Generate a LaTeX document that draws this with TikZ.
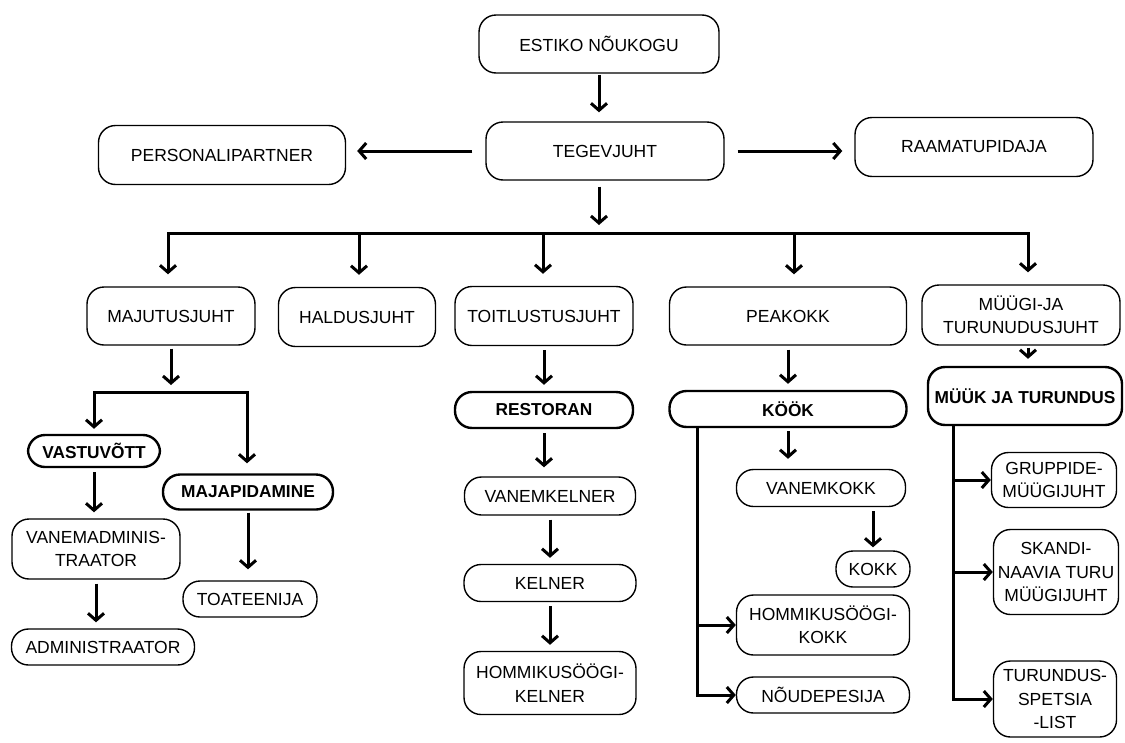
\documentclass[tikz,border=0pt]{standalone}
\usepackage{fontspec}
\setmainfont{Liberation Sans}
\usetikzlibrary{arrows.meta}

\begin{document}
\begin{tikzpicture}[x=1pt,y=-1pt,font=\fontsize{17.5}{23.5}\selectfont]
\tikzset{
  box/.style={draw,rounded corners=17pt,align=center,inner sep=0pt,line width=1.4pt},
  boss/.style={box,line width=2.4pt,font=\fontsize{17.3}{23.5}\selectfont\bfseries},
  arr/.style={-{Straight Barb[length=7pt,width=16pt]},line width=3pt,shorten <=4pt,shorten >=6pt},
  link/.style={arr,shorten <=0pt,shorten >=0pt}
}
\useasboundingbox (0,0) rectangle (1125,742);
% top
\node(nouk)[box,minimum width=240pt,minimum height=58pt] at (599,44){ESTIKO NÕUKOGU};
\node(tegev)[box,minimum width=238pt,minimum height=58pt] at (605,151){TEGEVJUHT};
\node(pers)[box,minimum width=247pt,minimum height=59pt] at (222,155){PERSONALIPARTNER};
\node(raam)[box,minimum width=238pt,minimum height=59pt] at (974,147){RAAMATUPIDAJA};
% juhid
\node(majut)[box,minimum width=168pt,minimum height=58pt] at (171,316){MAJUTUSJUHT};
\node(haldus)[box,minimum width=157pt,minimum height=59pt] at (357,317){HALDUSJUHT};
\node(toit)[box,minimum width=178pt,minimum height=59pt] at (544,316){TOITLUSTUSJUHT};
\node(peak)[box,minimum width=237pt,minimum height=58pt] at (788,316){PEAKOKK};
\node(myygi)[box,minimum width=198pt,minimum height=60pt] at (1021,315){MÜÜGI-JA\\TURUNUDUSJUHT};
% majutus
\node(vastu)[boss,minimum width=132pt,minimum height=32pt] at (94,451){VASTUVÕTT};
\node(majap)[boss,minimum width=170pt,minimum height=35pt] at (248,492){MAJAPIDAMINE};
\node(vanemad)[box,minimum width=168pt,minimum height=60pt] at (96,549){VANEMADMINIS-\\TRAATOR};
\node(admin)[box,minimum width=183pt,minimum height=36pt] at (103,647){ADMINISTRAATOR};
\node(toa)[box,minimum width=134pt,minimum height=36pt] at (250,599){TOATEENIJA};
% restoran
\node(resto)[boss,minimum width=178pt,minimum height=36pt] at (544,410){RESTORAN};
\node(vkelner)[box,minimum width=171pt,minimum height=38pt] at (550,496){VANEMKELNER};
\node(kelner)[box,minimum width=172pt,minimum height=37pt] at (550,583){KELNER};
\node(hkelner)[box,minimum width=172pt,minimum height=63pt] at (550,683){HOMMIKUSÖÖGI-\\KELNER};
% köök
\node(kook)[boss,minimum width=237pt,minimum height=36pt] at (788,409){KÖÖK};
\node(vkokk)[box,minimum width=169pt,minimum height=37pt] at (821,488){VANEMKOKK};
\node(kokk)[box,minimum width=74pt,minimum height=36pt] at (873,569){KOKK};
\node(hkokk)[box,minimum width=173pt,minimum height=60pt] at (823,625){HOMMIKUSÖÖGI-\\KOKK};
\node(noude)[box,minimum width=173pt,minimum height=36pt] at (823,695){NÕUDEPESIJA};
% müük
\node(myyk)[boss,minimum width=194pt,minimum height=58pt] at (1025,396){MÜÜK JA TURUNDUS};
\node(grupp)[box,minimum width=125pt,minimum height=55pt] at (1054,480){GRUPPIDE-\\MÜÜGIJUHT};
\node(skandi)[box,minimum width=125pt,minimum height=85pt] at (1056,572){SKANDI-\\NAAVIA TURU\\MÜÜGIJUHT};
\node(turund)[box,minimum width=123pt,minimum height=76pt] at (1055,699){TURUNDUS-\\SPETSIA\\-LIST};

\coordinate(busc) at (599,233);
\coordinate(b1) at (168,233); \coordinate(b2) at (359,233); \coordinate(b3) at (543,233);
\coordinate(b4) at (794,233); \coordinate(b5) at (1028,233);
\coordinate(msplit) at (171,392); \coordinate(ms1) at (94,392); \coordinate(ms2) at (247,392);
\coordinate(kx) at (697,427); \coordinate(mx) at (953,425);

\draw[arr,shorten <=1pt,shorten >=9pt](nouk.south)--(nouk.south |- tegev.north);
\draw[arr,shorten <=13pt,shorten >=11pt](tegev.west)--(tegev.west -| pers.east);
\draw[arr,shorten <=13pt,shorten >=12pt](tegev.east)--(tegev.east -| raam.west);
\draw[arr,shorten <=6pt,shorten >=8pt](tegev.south -| busc)--(busc);
\draw[arr,shorten <=0pt,shorten >=12pt](busc)--(b1)--(b1 |- majut.north);
\draw[arr,shorten <=0pt,shorten >=12pt](busc)--(b5)--(b5 |- myygi.north);
\foreach \b/\n in {b2/haldus,b3/toit,b4/peak}
  \draw[arr,shorten <=0pt,shorten >=12pt](\b)--(\b |- \n.north);

\draw[arr,shorten <=3pt,shorten >=7pt](majut.south)--(msplit);
\draw[arr,shorten <=0pt,shorten >=5pt](ms2)--(ms1)--(ms1 |- vastu.north);
\draw[arr,shorten <=0pt,shorten >=10pt](ms1)--(ms2)--(ms2 |- majap.north);
\draw[arr](vastu.south)--(vastu.south |- vanemad.north);
\draw[arr](vanemad.south)--(vanemad.south |- admin.north);
\draw[arr,shorten <=2pt,shorten >=11pt](majap.south)--(majap.south |- toa.north);

\draw[arr](toit.south)--(resto.north);
\draw[arr,shorten >=9pt](resto.south)--(resto.south |- vkelner.north);
\draw[arr](vkelner.south)--(vkelner.south |- kelner.north);
\draw[arr](kelner.south)--(kelner.south |- hkelner.north);

\draw[arr](peak.south)--(kook.north);
\draw[arr,shorten <=3pt,shorten >=10pt](kook.south)--(kook.south |- vkokk.north);
\draw[arr,shorten >=3pt](kokk.north |- vkokk.south)--(kokk.north);
\draw[link](kx)--(kx |- noude.west)--(noude.west);
\draw[link](kx |- hkokk.west)--(hkokk.west);

\draw[arr,shorten <=2pt,shorten >=7pt](b5 |- myygi.south)--(b5 |- myyk.north);
\draw[link](mx)--(mx |- turund.west)--(turund.west);
\draw[link](mx |- grupp.west)--(grupp.west);
\draw[link](mx |- skandi.west)--(skandi.west);
\end{tikzpicture}
\end{document}
